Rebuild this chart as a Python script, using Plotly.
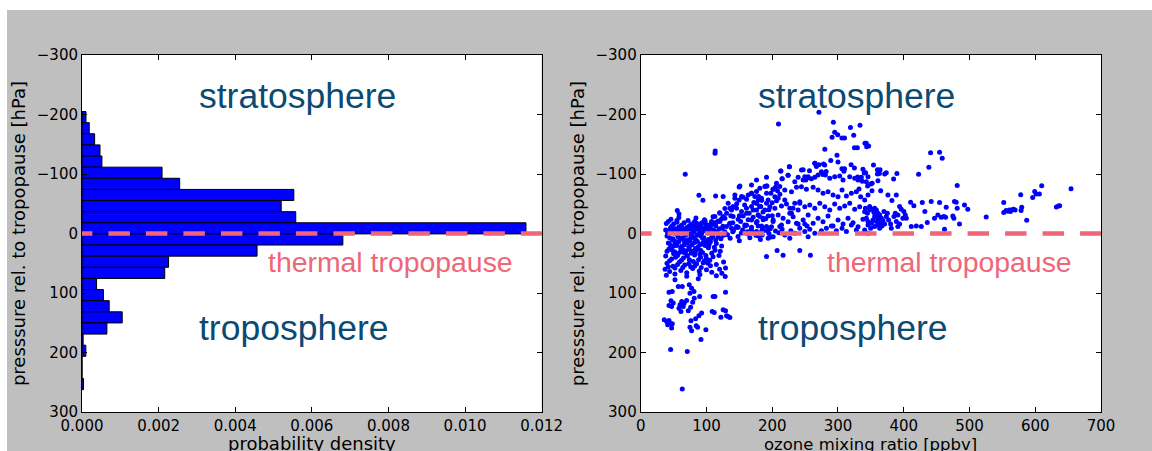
import plotly.graph_objects as go

# ---- histogram of pressure relative to the thermal tropopause ----
bin_edges_hpa = [-205.0, -186.3, -167.6, -148.9, -130.2, -111.5, -92.8, -74.1, -55.4,
                 -36.7, -18.0, 0.7, 19.4, 38.1, 56.8, 75.5, 94.2, 112.9, 131.6, 150.3,
                 169.0, 187.7, 206.4, 225.1, 243.8, 262.5]
density = [0.000104, 0.00019, 0.00033, 0.00047, 0.00052, 0.00209, 0.00255, 0.00553,
           0.0052, 0.00558, 0.01159, 0.00681, 0.00457, 0.00226, 0.00216, 0.00038,
           0.00056, 0.00071, 0.00105, 0.00065, 0.00003, 0.0001, 0.0, 0.0, 0.00004]

# ---- ozone mixing ratio [ppbv] vs pressure rel. to tropopause [hPa] ----
troposphere_pts = [
    (39, -17), (47, -12), (55, -19), (62, -14), (70, -10), (77, -16), (85, -13), (93, -18),
    (100, -11), (108, -15), (115, -19), (125, -12), (135, -16), (146, -10), (161, -14), (176, -18),
    (38, -6), (44, -2), (52, -8), (60, -4), (67, -1), (75, -7), (81, -3), (89, -9), (96, -5),
    (104, -2), (111, -6), (119, -8), (128, -3), (141, -5), (153, -1), (168, -7), (184, -4),
    (40, 4), (49, 9), (56, 3), (64, 7), (71, 11), (79, 5), (86, 2), (94, 8), (103, 10), (110, 4),
    (118, 6), (126, 3),
    (42, 16), (50, 21), (58, 14), (66, 19), (74, 22), (82, 15), (90, 18), (98, 20), (106, 14),
    (115, 17), (123, 21),
    (43, 26), (52, 31), (61, 25), (69, 29), (77, 33), (85, 27), (94, 32), (103, 24), (113, 28),
    (121, 30),
    (38, 38), (47, 43), (56, 37), (65, 41), (74, 44), (82, 36), (91, 40), (100, 42), (110, 39),
    (119, 37),
    (40, 50), (49, 55), (59, 48), (67, 53), (76, 56), (85, 51), (95, 49), (106, 54), (115, 52),
    (126, 48),
    (37, 60), (44, 64), (52, 58), (61, 62), (70, 66), (79, 59), (89, 63), (100, 61), (108, 65),
    (120, 60), (129, 58),
    (39, 70), (52, 68), (70, 72), (90, 69), (115, 71),
    (46, -24), (58, -27), (72, -22), (84, -26), (97, -23), (110, -28), (123, -25), (137, -30),
    (45, -9), (53, 0), (63, -3), (72, 1), (81, -6), (90, -2), (99, -10),
    (48, 11), (57, 6), (66, 12), (76, 8), (86, 13), (96, 7),
    (46, 24), (55, 20), (64, 27), (73, 22), (83, 25), (92, 18),
    (50, 34), (60, 31), (70, 36), (80, 30), (90, 35),
    (42, -20), (50, -16), (58, -11), (66, -18), (74, -13), (82, -20), (90, -15), (98, -21),
    (106, -9), (114, -13),
    (41, -1), (48, -5), (56, 1), (63, -9), (70, -4), (78, 0), (86, -7), (93, -1), (101, -7),
    (108, 1), (116, -3), (124, -9),
    (44, 7), (52, 13), (60, 9), (68, 3), (75, 13), (83, 9), (91, 4), (99, 14), (107, 8),
    (114, 11), (122, 9),
    (45, 19), (53, 16), (62, 22), (70, 15), (78, 19), (87, 23), (95, 15), (104, 19), (112, 23),
    (40, 30), (48, 28), (57, 34), (66, 32), (74, 27), (83, 31), (91, 28), (99, 37), (108, 33),
    (44, 46), (53, 40), (62, 45), (71, 38), (80, 47), (88, 44), (97, 46), (105, 45),
    (42, 56), (56, 52), (64, 57), (73, 51), (82, 55), (92, 57), (102, 50),
    (52.1, 77.9), (57.1, 89.2), (63.2, 89.2), (48, 97.6), (43, 98.6), (73.8, 86.3), (77.4, 91.9),
    (81, 97.6), (74.9, 100.3), (87.5, 76.2), (89.6, 106), (128.5, 72.4), (123.4, 66.7),
    (129, 98.6), (46, 113.2), (49.5, 117), (43, 121), (47, 122.7), (62.3, 114.3), (66.2, 117),
    (69.8, 112.7), (59.7, 119.9), (58.2, 125.5), (64.7, 122.7), (61.2, 131), (72.3, 130),
    (75.9, 123.8), (79, 115.4), (81.4, 108.7), (110.2, 106), (112.8, 106), (108.7, 131),
    (111.8, 132.8), (129, 130), (121.9, 140.6), (133, 139.5), (135.6, 141.2), (92.6, 133.8),
    (88.5, 138.4), (83.5, 143.4), (76.4, 146.8), (74.9, 157.4), (77.4, 163.6), (84.4, 155.2),
    (86.5, 157.4), (99.1, 161.9), (91.6, 178.2), (35.8, 145), (39.5, 148), (43, 146.3),
    (44.5, 150.7), (41, 153.5), (47, 159), (48, 151.8), (45.5, 195), (70.8, 198.3), (63.2, 261.5),
    (125.4, 128), (130.6, 138.4),
    (113.3, -138.7), (113, -135), (67.7, -99.6), (88.5, -64.3), (94.6, -55.9), (113.9, -63.1),
    (149.7, -78.3), (55.6, -38.5), (58.2, -32.9), (55.1, -21.7),
]

transition_pts = [
    (117.9, -21.2), (125.5, -28.4), (130.6, -34.1), (135.6, -42.5), (140.6, -45.2), (149.7, -56.4),
    (153.4, -62), (161, -57.6), (168.5, -67.7), (176.1, -70.4), (181.1, -76.1), (188.7, -78.8),
    (191.3, -67.7), (201.3, -74.4), (206.5, -84.5), (211.5, -78.8), (150.8, -79.9), (133, -50.9),
    (120.4, -34.1), (112.8, -28.4), (107.8, -20), (100.2, -14.4), (90, -11.6), (85, -17.3),
    (79.9, -11.6), (72.3, -8.9), (64.7, -6), (54.7, -7.2), (44.5, -3.2), (161, -34.1),
    (171, -39.6), (181.1, -45.2), (191.3, -50.9), (168.5, -22.8), (181.1, -28.4), (158.4, -14.4),
    (145.8, -11.6), (135.6, -17.3), (191.3, -11.6), (201.3, -20), (211.5, -11.6), (226.7, -34.1),
    (231.7, -42.5), (241.9, -50.9), (176.1, -90), (191.3, -94.5), (168.5, -81.6), (125.4, -62),
    (143.2, -64.8),
    (132, 2), (140, -3), (148, 5), (155, -6), (163, 1), (171, -2), (179, 4), (187, -5), (195, 0),
    (136, 8), (150, 12), (166, 7), (182, 10), (198, 6),
    (191.3, 38.8), (207.4, 28.7), (216.5, 36.5), (241.9, 28.7), (258.1, 36.5),
    (143.2, -59.3), (155.8, -60.9), (163.4, -64.8), (168.5, -67.6), (173.5, -62.1), (178.6, -56.5),
    (183.7, -59.3), (138.1, -39.7), (145.7, -42.5), (153.3, -36.9), (160.9, -42.5), (168.5, -45.3),
    (176.1, -39.7), (182.6, -45.3), (140.6, -28.5), (148.2, -24), (155.8, -29.6), (163.4, -22.9),
    (171, -27.3), (178.6, -31.3), (186.2, -22.9), (128, -25.7), (120.4, -20.1), (112.8, -17.3),
    (105.2, -14.5), (97.6, -17.3), (92.6, -10.6), (85, -14.5), (77.4, -10.6), (69.8, -8.9),
    (62.2, -7.2), (130.5, -11.7), (138.1, -8.9), (148.2, -10.6), (158.4, -12.8), (168.5, -10.6),
    (178.6, -12.8),
    (120, -35), (128, -42), (146, -50), (158, -48), (172, -52), (186, -36), (195, -40),
    (150, -30), (165, -34), (177, -20), (190, -25), (200, -30), (140, -18), (152, -20),
    (162, -3), (175, 3), (185, -10), (197, -8), (205, -4), (215, -7),
]

stratosphere_pts = [
    (191.3, -79.8), (201.4, -74.2), (205, -77.6), (208, -72), (224.2, -97.7), (215.1, -92.2),
    (226.2, -112.3), (213.1, -105), (234.3, -87.1), (239.4, -94.4), (247, -89.9), (249.5, -95.5),
    (254.6, -93.8), (259.6, -92.1), (264.7, -94.4), (269.7, -98.3), (274.8, -103.9), (280.9, -98.3),
    (287.5, -92.7), (295, -95.5), (302.6, -96.6), (307.7, -89.9), (317.8, -95.5), (325.4, -92.7),
    (330.5, -89.9), (335.5, -94.4), (343.1, -87.1),
    (197.9, -67.5), (204, -61.9), (211.6, -65.8), (209, -59.1), (193.8, -56.3), (199.9, -51.8),
    (206.5, -55.2), (219.1, -73.1), (229.3, -70.3), (236.9, -77.6), (244.4, -78.7), (252, -74.2),
    (262.2, -77.6), (269.7, -73.1), (277.3, -67.5), (284.9, -70.3), (292.5, -64.7), (300.1, -61.9),
    (306.2, -73.1), (312.8, -63), (320.4, -67.5), (327.9, -70.3), (334.5, -61.9), (340.6, -56.3),
    (345.7, -64.7), (183.7, -56.3), (179.2, -61.9),
    (176.1, -50.7), (181.2, -45.1), (188.8, -39.5), (196.4, -45.1), (204, -42.3), (214.1, -46.2),
    (221.7, -49.6), (226.7, -42.3), (234.3, -50.7), (241.9, -53.5), (249.5, -45.1), (257.1, -47.9),
    (264.7, -42.3), (272.3, -50.7), (279.9, -45.1), (287.5, -39.5), (295, -49.6), (302.6, -42.3),
    (310.2, -46.2), (317.8, -50.7), (325.4, -40.6), (333, -45.1), (340.6, -36.7), (348.2, -39.5),
    (219.1, -56.3), (229.3, -33.9), (239.4, -39.5),
    (178.7, -31.1), (186.3, -25.5), (193.8, -29.4), (201.4, -22.7), (209, -31.1), (216.6, -25.5),
    (224.2, -19.9), (231.8, -28.3), (239.4, -16), (247, -22.7), (254.6, -31.1), (262.2, -17.1),
    (269.7, -25.5), (277.3, -19.9), (284.9, -29.4), (292.5, -12.6), (300.1, -22.7), (307.7, -16),
    (315.3, -25.5), (322.9, -18.2), (330.5, -11.5), (338, -23.8), (345.7, -14.3), (183.7, -12.6),
    (198.9, -11.5), (214.1, -14.3),
    (176.1, -3.2), (184.7, 2.5), (192.8, -4.8), (201.4, 5.3), (210, -1.4), (219.1, 2.5),
    (228.3, -4.8), (234.3, -0.3), (241.9, -8.7), (249.5, -3.2), (257.1, -7.1), (264.7, -0.3),
    (274.8, -4.8), (282.4, -8.7), (290, -12.6), (297.6, -4.8), (306.2, -8.7), (312.8, -3.2),
    (320.4, -14.3), (327.9, -5.9), (340.6, -5.9), (345.7, -0.3), (193.8, 8.1), (226.7, 8.1),
    (254.6, 5.3), (236.9, -17.1), (249.5, -16), (253, -12.6),
    (244.5, -106.8), (264.7, -118), (267.2, -112.4), (279.8, -115), (251, -90), (254.5, -95.5),
    (271, -203.7), (209.5, -184), (293, -187), (319, -178), (333.5, -181.8), (295, -170),
    (299.6, -166), (291, -161.7), (306, -160.5), (310, -160.5), (323.9, -165), (341, -151.6),
    (343.6, -146), (325, -144), (329.5, -144), (280, -141.6), (298.5, -131.5), (289, -122.5),
    (300, -120), (265, -118), (271, -115.7), (278, -117), (320, -115.7), (226, -112), (213, -105),
    (224, -98), (215, -92), (247, -107), (256.6, -105.6), (282, -104), (277, -99), (306, -109),
    (310, -109), (309, -104.6), (338, -108), (340, -101.8), (192, -80), (179, -62), (184, -56),
    (176.5, -51),
    (325, -110), (330, -95), (337, -88), (345, -80), (332, -75),
]

high_ozone_pts = [
    (343, -151.6), (346.6, -147), (354, -115), (360, -107), (362, -104), (364, -107), (363, -101),
    (360, -100), (371, -100), (373.5, -102), (389.6, -101), (384.6, -91.7), (360.8, -88.8),
    (345.6, -95.5), (342, -102), (352, -84.5), (349.7, -83.3), (351.7, -72), (364.9, -72),
    (376, -64.8), (388.7, -64.8), (382, -55.3), (422.6, -99.6), (440.8, -135.9), (454.5, -136.5),
    (458.5, -126.4), (438.2, -111.3), (481.3, -80.5), (410.4, -52.6), (415.4, -46.8),
    (428.2, -51.9), (432.1, -36.8), (441.8, -53.6), (454.5, -51.9), (464.6, -44.2), (477.2, -53.6),
    (479.8, -52.6), (481.3, -42.5), (492.4, -48), (497.4, -40.8), (451.9, -31.2), (457, -27.4),
    (461, -28.4), (463.6, -27.4), (446.8, -25.7), (474.7, -29.6), (476.2, -25.7), (435.8, -18.3),
    (426.7, -11.6), (419.1, -12.8), (411.5, -11.6), (462, -7.2), (484.8, -16.1), (393.7, -45.2),
    (396.3, -40.8), (400.2, -36.8), (402.4, -31.2), (398.7, -25.7), (403.9, -25.7), (391.1, -31.2),
    (387.2, -34.1), (385.1, -28.4), (388.7, -20), (393.7, -16.1), (391.1, -11.6), (381.1, -8.9),
    (380, -16.1),
    (348.2, -45.2), (353.2, -40.8), (355.8, -42.5), (358.4, -39.6), (354.7, -35.1), (360.8, -34.1),
    (363.4, -31.2), (359.9, -27.4), (355.8, -28.4), (361.9, -24), (366, -25.7), (368.4, -21.7),
    (364.9, -18.3), (358.4, -20), (353.2, -22.8), (350.8, -17.3), (360.8, -14.4), (366.9, -12.8),
    (371, -16.1), (373.5, -28.4), (375.1, -34.1), (369.9, -36.8), (363.4, -8.9), (355.8, -11.6),
    (345.6, -20), (343.2, -25.7), (344.7, -34.1), (341.7, -42.5), (349.7, -8.9), (377, -22.8),
    (525.4, -27.9), (552.1, -51.9), (552.1, -35.1), (555.7, -38.5), (558.2, -37.4), (562.3, -36.8),
    (564.2, -39.6), (566.8, -40.8), (569.4, -39.6), (560.7, -39.6), (577.9, -65.3), (578.5, -38.5),
    (579.4, -44.2), (587, -22.3), (596.1, -60.3), (599.2, -70.4), (601.3, -66.5), (606.3, -66.5),
    (609.8, -80.4), (632.1, -44.7), (635.1, -46.3), (637.1, -46.8), (654.4, -75.4),
]

all_pts = troposphere_pts + transition_pts + stratosphere_pts + high_ozone_pts
ozone_ppbv = [p[0] for p in all_pts]
dp_hpa = [p[1] for p in all_pts]

bin_centers = [(a + b) / 2 for a, b in zip(bin_edges_hpa[:-1], bin_edges_hpa[1:])]
bin_widths = [b - a for a, b in zip(bin_edges_hpa[:-1], bin_edges_hpa[1:])]

TEXT_FONT = "DejaVu Sans"
LABEL_FONT = "Liberation Sans"
REGION_COLOR = "#0b4a72"
TROPO_COLOR = "#ee6677"
BG_GRAY = "#bfbfbf"

fig = go.Figure()

fig.add_trace(go.Bar(
    x=density, y=bin_centers, width=bin_widths, orientation="h",
    marker=dict(color="#0000ff", line=dict(color="black", width=1)),
    xaxis="x", yaxis="y", showlegend=False,
))

fig.add_trace(go.Scatter(
    x=ozone_ppbv, y=dp_hpa, mode="markers",
    marker=dict(color="#0000ff", size=5, line=dict(width=0)),
    xaxis="x2", yaxis="y2", showlegend=False,
))

tick_font = dict(family=TEXT_FONT, size=15, color="black")
frame = dict(
    showline=True, linecolor="black", linewidth=1, mirror="ticks",
    ticks="inside", ticklen=5, tickwidth=1, tickcolor="black",
    showgrid=False, zeroline=False, tickfont=tick_font, automargin=False,
)

y_ticks = [-300, -200, -100, 0, 100, 200, 300]
y_title = dict(text="presssure rel. to tropopause [hPa]",
               font=dict(family=TEXT_FONT, size=18, color="black"), standoff=6)

fig.update_layout(
    width=1152, height=451,
    margin=dict(l=82, r=51, t=55, b=39),
    paper_bgcolor=BG_GRAY, plot_bgcolor="white",
    xaxis=dict(domain=[0, 0.4511], range=[0, 0.012], anchor="y",
               tickvals=[0, 0.002, 0.004, 0.006, 0.008, 0.010, 0.012], tickformat=".3f",
               **frame),
    yaxis=dict(domain=[0, 1], range=[300, -300], anchor="x", tickvals=y_ticks,
               title=y_title, **frame),
    xaxis2=dict(domain=[0.5483, 1], range=[0, 700], anchor="y2",
                tickvals=[0, 100, 200, 300, 400, 500, 600, 700],
                **frame),
    yaxis2=dict(domain=[0, 1], range=[300, -300], anchor="x2", tickvals=y_ticks,
                title=y_title, **frame),
)

# x-axis titles, set low so they sit at the bottom edge of the figure
fig.add_annotation(x=0.5, xref="x domain", y=-0.0896, yref="paper", text="probability density",
                   showarrow=False, xanchor="center", yanchor="middle",
                   font=dict(family=TEXT_FONT, size=18, color="black"))
fig.add_annotation(x=0.5, xref="x2 domain", y=-0.09, yref="paper", text="ozone mixing ratio [ppbv]",
                   showarrow=False, xanchor="center", yanchor="middle",
                   font=dict(family=TEXT_FONT, size=16.5, color="black"))

# white page strips along the top and left edges of the gray figure
fig.add_shape(type="rect", xref="paper", yref="paper", x0=-0.1, x1=1.1, y0=1.126, y1=1.3,
              fillcolor="white", line=dict(width=0), layer="below")
fig.add_shape(type="rect", xref="paper", yref="paper", x0=-0.1, x1=-0.0736, y0=-0.2, y1=1.3,
              fillcolor="white", line=dict(width=0), layer="below")

# thermal tropopause marker lines
fig.add_shape(type="line", xref="x", yref="y", x0=-0.00029, x1=0.0125, y0=0, y1=0,
              line=dict(color=TROPO_COLOR, width=4.5, dash="21.5px,16px"))
fig.add_shape(type="line", xref="x2", yref="y2", x0=-16.2, x1=730, y0=0, y1=0,
              line=dict(color=TROPO_COLOR, width=4.5, dash="21.5px,16px"))

def region_labels(xr, yr, x_strat, x_trop, x_tp):
    fig.add_annotation(x=x_strat, y=-231, xref=xr, yref=yr, text="stratosphere", showarrow=False,
                       font=dict(family=LABEL_FONT, size=35.5, color=REGION_COLOR),
                       xanchor="center", yanchor="middle")
    fig.add_annotation(x=x_trop, y=158, xref=xr, yref=yr, text="troposphere", showarrow=False,
                       font=dict(family=LABEL_FONT, size=35.5, color=REGION_COLOR),
                       xanchor="center", yanchor="middle")
    fig.add_annotation(x=x_tp, y=48.5, xref=xr, yref=yr, text="thermal tropopause", showarrow=False,
                       font=dict(family=LABEL_FONT, size=28.4, color=TROPO_COLOR),
                       xanchor="center", yanchor="middle")

region_labels("x", "y", 0.00562, 0.00551, 0.00806)
region_labels("x2", "y2", 328, 322, 469.6)

fig.write_html("out.html")
